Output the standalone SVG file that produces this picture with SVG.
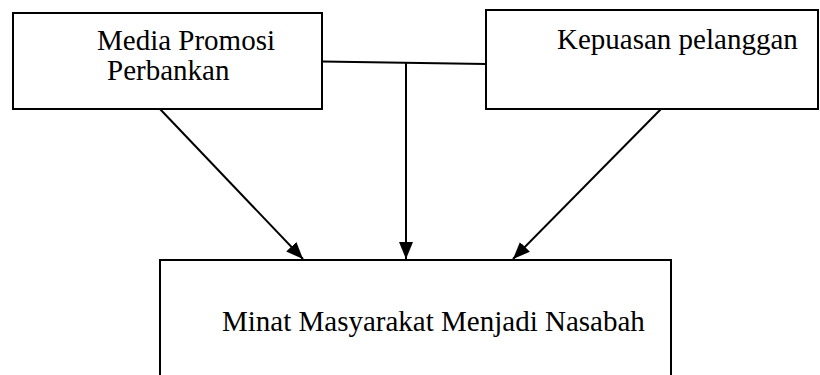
<svg xmlns="http://www.w3.org/2000/svg" width="820" height="375" viewBox="0 0 820 375">
<defs>
<marker id="ah" markerWidth="17" markerHeight="14" refX="17" refY="7" orient="auto" markerUnits="userSpaceOnUse">
<path d="M0,0 L17,7 L0,14 Z" fill="#000"/>
</marker>
</defs>
<style>
.box{fill:#fff;stroke:#000;stroke-width:2}
.t{font-family:"Liberation Serif","Times New Roman",serif;font-size:29px;fill:#000}
.c{stroke:#000;stroke-width:2;fill:none}
</style>
<rect width="820" height="375" fill="#fff"/>
<g id="connectors">
<path class="c" d="M322,61.5 L486,64"/>
<path class="c" d="M406,62 L406,259" marker-end="url(#ah)"/>
<path class="c" d="M160,109 L303,259" marker-end="url(#ah)"/>
<path class="c" d="M661,109 L513,259" marker-end="url(#ah)"/>
</g>
<g id="media-promosi">
<rect class="box" x="13" y="13" width="309" height="96"/>
<text class="t" x="97" y="50">Media Promosi</text>
<text class="t" x="107" y="80">Perbankan</text>
</g>
<g id="kepuasan">
<rect class="box" x="486" y="10" width="332" height="99"/>
<text class="t" x="557" y="49">Kepuasan pelanggan</text>
</g>
<g id="minat">
<rect class="box" x="160" y="260" width="511" height="130"/>
<text class="t" x="222" y="331">Minat Masyarakat Menjadi Nasabah</text>
</g>
</svg>
